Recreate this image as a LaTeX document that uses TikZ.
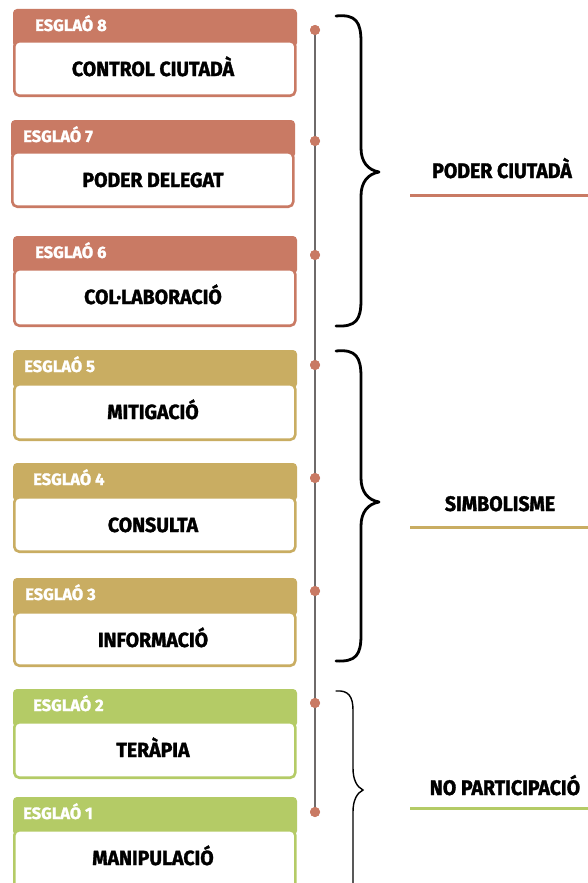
\documentclass[tikz,border=0pt]{standalone}
\usepackage{fontspec}
\setmainfont{Fira Sans}
\newfontfamily\heavyfont[FakeBold=1.6]{Fira Sans}
\definecolor{terra}{RGB}{201,122,100}
\definecolor{gold}{RGB}{201,173,98}
\definecolor{leaf}{RGB}{180,203,102}
\definecolor{rail}{RGB}{110,106,106}
\begin{document}
\begin{tikzpicture}[x=1pt,y=-1pt,
  hdr/.style={rounded corners=4pt, minimum width=284pt, minimum height=38pt, anchor=north west, inner sep=0pt, outer sep=0pt},
  stepbox/.style={draw, line width=2.6pt, fill=white, rounded corners=5pt, minimum width=281pt, anchor=north west, inner sep=0pt, outer sep=0pt},
  htext/.style={text=white, anchor=base west, inner sep=0pt, font=\heavyfont\bfseries\fontsize{16.5}{16.5}\selectfont},
  btext/.style={anchor=base, inner sep=0pt, font=\heavyfont\bfseries\fontsize{20.5}{20.5}\selectfont},
  ltext/.style={anchor=base, inner sep=0pt, font=\heavyfont\bfseries\fontsize{21}{21}\selectfont},
  dot/.style={circle, fill=terra, minimum size=10pt, inner sep=0pt},
  brace/.style={line width=2.8pt, line cap=round, line join=round},
  uline/.style={line width=3pt}
]
\useasboundingbox (0,0) rectangle (588,883);
\fill[white] (0,0) rectangle (588,883);

% steps: n / header top / box top / box bottom / left x / text x / label / colour
\foreach \n/\hy/\by/\bb/\lx/\tx/\lab/\col in {
  8/9/40/97/13/35/CONTROL CIUTADÀ/terra,
  7/120/151/208/11/23/PODER DELEGAT/terra,
  6/236/268/327/13/35/COL·LABORACIÓ/terra,
  5/350/383/441/13/24/MITIGACIÓ/gold,
  4/463/496/553/13/33/CONSULTA/gold,
  3/578/611/667/13/25/INFORMACIÓ/gold,
  2/689/721/779/13/33/TERÀPIA/leaf,
  1/797/829/895/13/23/MANIPULACIÓ/leaf}{
  \node[hdr, fill=\col] (h\n) at (\lx,\hy) {};
  \node[htext] (ht\n) at (\tx,\hy+22) {\scalebox{1.0}[1]{ESGLAÓ \n}};
  \pgfmathsetmacro{\bh}{\bb-\by-2.6}
  \node[stepbox, draw=\col, minimum height=\bh pt] (b\n) at (\lx+1.3,\by+1.3) {};
  \node[btext] (bt\n) at (153,\by+36) {\scalebox{0.95}[1]{\lab}};
}

% rail and dots
\node[dot] (d8) at (315,30) {};
\node[dot] (d7) at (315,141) {};
\node[dot] (d6) at (315,255) {};
\node[dot] (d5) at (315,365) {};
\node[dot] (d4) at (315,478) {};
\node[dot] (d3) at (315,591) {};
\node[dot] (d2) at (315,703) {};
\node[dot] (d1) at (315,812) {};
\draw[rail, line width=2.4pt] (d8.center) -- (d1.center);
\foreach \k in {8,7,6,5,4,3,2,1}{\fill[terra] (d\k) circle (5pt);}

% braces
\draw[brace] (336,16) .. controls (356,14) and (361,22) .. (361,42) -- (361,148)
  .. controls (361,162) and (368,170) .. (379,172)
  .. controls (368,174) and (361,182) .. (361,196) -- (361,300)
  .. controls (361,320) and (356,327) .. (336,326);
\draw[brace] (336,351) .. controls (356,349) and (361,357) .. (361,377) -- (361,478)
  .. controls (361,492) and (368,500) .. (379,502)
  .. controls (368,504) and (361,512) .. (361,526) -- (361,635)
  .. controls (361,655) and (356,662) .. (336,661);
\draw[line width=1.4pt, line cap=round] (336,691) .. controls (348,690) and (353,696) .. (353,710) -- (353,768)
  .. controls (353,780) and (357,787) .. (363,790)
  .. controls (357,793) and (353,800) .. (353,812) -- (353,883);

% group labels
\node[ltext] (g1) at (502,178) {\scalebox{0.93}[1]{PODER CIUTADÀ}};
\draw[terra, uline] (410,195) -- (588,195);
\node[ltext] (g2) at (500,511) {\scalebox{0.93}[1]{SIMBOLISME}};
\draw[gold, uline] (410,527) -- (588,527);
\node[ltext] (g3) at (505,795) {\scalebox{0.93}[1]{NO PARTICIPACIÓ}};
\draw[leaf, uline] (410,808) -- (588,808);
\end{tikzpicture}
\end{document}
